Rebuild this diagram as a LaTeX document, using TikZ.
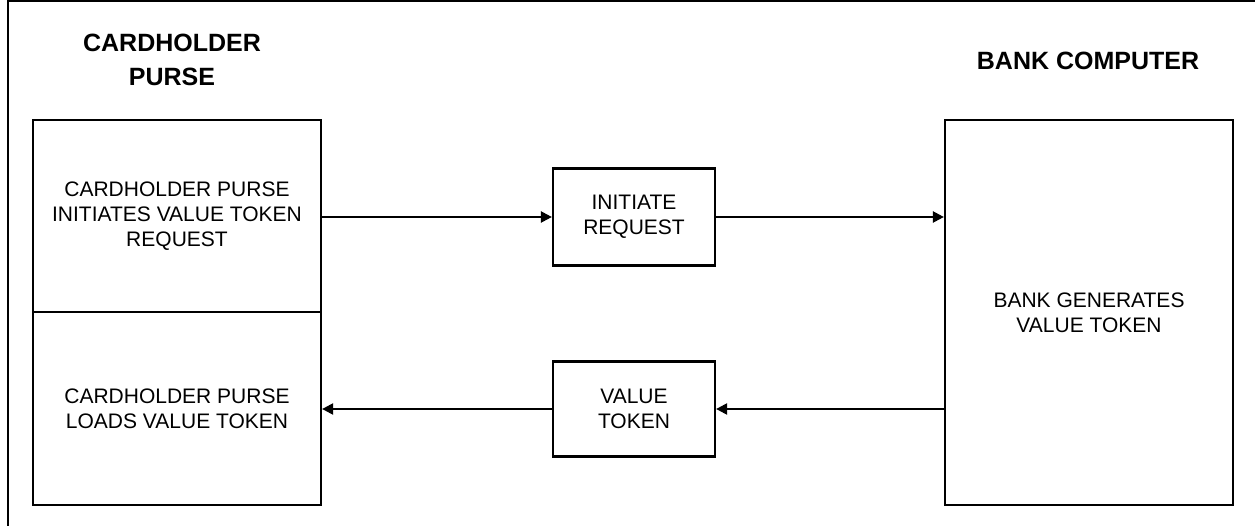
\documentclass[tikz,border=0pt]{standalone}
\usepackage{fontspec}
\setmainfont{Liberation Sans}
\usetikzlibrary{arrows.meta}
\begin{document}
\begin{tikzpicture}[x=1pt,y=-1pt,
  box/.style={draw, line width=2.2pt, inner sep=0pt, align=center,
    font=\fontsize{21}{25}\selectfont},
  title/.style={align=center, inner sep=0pt,
    font=\fontsize{25}{34}\selectfont\bfseries},
  arr/.style={line width=2.2pt, -{Triangle[length=11pt,width=11pt]}}]
\useasboundingbox (0,0) rectangle (1255,526);
\draw[line width=2.2pt] (8,530) -- (8,1) -- (1260,1);
\node[title] (t1) at (172,60) {CARDHOLDER\\PURSE};
\node[title, anchor=base] (t2) at (1088,70) {BANK COMPUTER};
\node[box, minimum width=288pt, minimum height=192pt] (lu) at (177,216)
  {CARDHOLDER PURSE\\INITIATES VALUE TOKEN\\REQUEST};
\node[box, minimum width=288pt, minimum height=193pt] (ll) at (177,408.5)
  {CARDHOLDER PURSE\\LOADS VALUE TOKEN};
\node[box, minimum width=288pt, minimum height=385pt] (bank) at (1089,312.5)
  {BANK GENERATES\\VALUE TOKEN};
\node[box, minimum width=162pt, minimum height=97pt] (ir) at (634,217)
  {INITIATE\\REQUEST};
\node[box, minimum width=162pt, minimum height=95pt] (vt) at (634,409)
  {VALUE\\TOKEN};
\draw[arr] (lu.east |- ir.west) -- (ir.west);
\draw[arr] (ir.east) -- (ir.east -| bank.west);
\draw[arr] (vt.east -| bank.west) -- (vt.east);
\draw[arr] (vt.west) -- (vt.west -| ll.east);
\end{tikzpicture}
\end{document}
